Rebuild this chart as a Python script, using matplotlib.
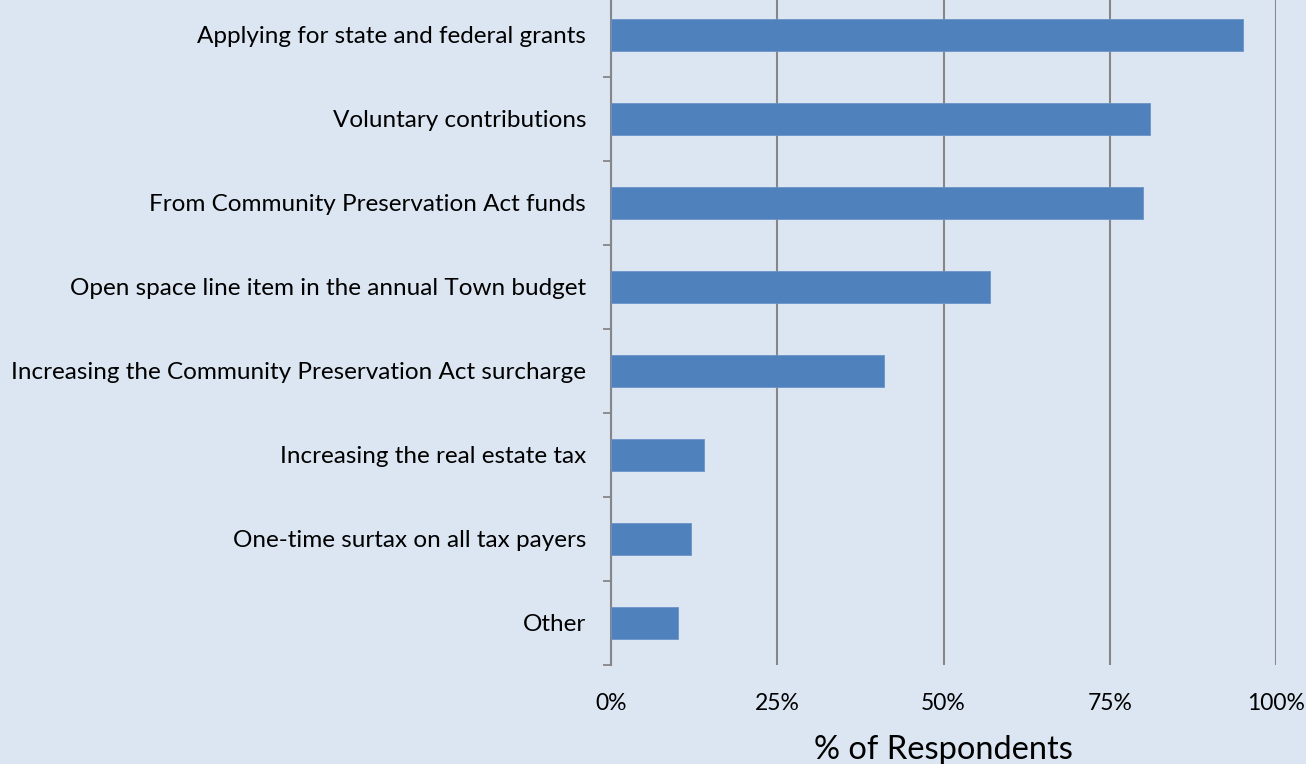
import matplotlib.pyplot as plt
from matplotlib.ticker import FixedLocator, PercentFormatter

sources = [
    "Applying for state and federal grants",
    "Voluntary contributions",
    "From Community Preservation Act funds",
    "Open space line item in the annual Town budget",
    "Increasing the Community Preservation Act surcharge",
    "Increasing the real estate tax",
    "One-time surtax on all tax payers",
    "Other",
]
share = [95, 81, 80, 57, 41, 14, 12, 10]

bg = "#dce6f2"
bar_color = "#4f81bd"
grid_color = "#868686"

plt.rcParams["font.family"] = ["Lato", "DejaVu Sans"]

fig = plt.figure(figsize=(13.06, 7.64), dpi=100, facecolor=bg)
# plot area runs a little past the top edge of the canvas
ax = fig.add_axes([0.468, 0.1296, 0.509, 0.8796])
ax.set_facecolor(bg)

pos = list(range(len(sources)))[::-1]
ax.barh(pos, share, height=0.39, color=bar_color, edgecolor="#6a93c6", linewidth=0.6, zorder=3)

ax.set_xlim(0, 100)
ax.set_ylim(-0.5, len(sources) - 0.5)
ax.set_xticks([0, 25, 50, 75, 100])
ax.xaxis.set_major_formatter(PercentFormatter(decimals=0))
ax.grid(axis="x", color=grid_color, linewidth=1.5, zorder=1)
ax.tick_params(axis="x", length=0, pad=20, labelsize=16.5)

ax.set_yticks(pos)
ax.set_yticklabels(sources, fontsize=17.5)
ax.tick_params(axis="y", which="major", length=0, pad=18)
ax.yaxis.set_minor_locator(FixedLocator([p - 0.5 for p in range(len(sources) + 1)]))
ax.tick_params(axis="y", which="minor", length=6, width=1.3, color=grid_color, direction="out")

for side in ["top", "right", "bottom"]:
    ax.spines[side].set_visible(False)
ax.spines["left"].set_color(grid_color)
ax.spines["left"].set_linewidth(1.5)

ax.set_xlabel("% of Respondents", fontsize=23.5, labelpad=15)

fig.savefig("out.png", dpi=100, facecolor=bg)
